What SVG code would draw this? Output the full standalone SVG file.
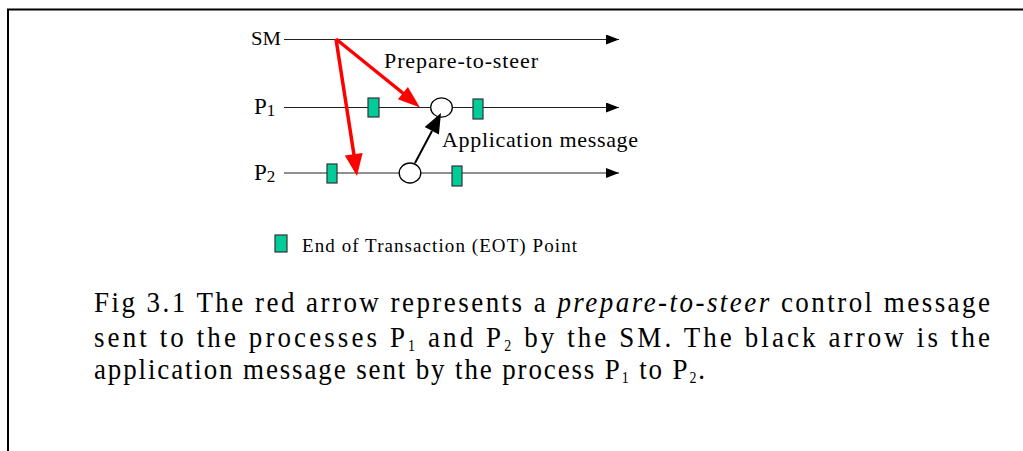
<svg xmlns="http://www.w3.org/2000/svg" width="1023" height="451" viewBox="0 0 1023 451">
<defs>
<style>
.t{font-family:"Liberation Serif","Times New Roman",serif;fill:#000}
.tl{stroke:#222;stroke-width:1.2;fill:none}
.eot{fill:#00CC99;stroke:#333;stroke-width:1.2}
.ev{fill:#fff;stroke:#000;stroke-width:1.3}
.red{stroke:#ff0000;stroke-width:3.5;fill:none}
.blk{stroke:#000;stroke-width:2;fill:none}
</style>
<marker id="ah" markerUnits="userSpaceOnUse" markerWidth="13" markerHeight="10" refX="13" refY="5" orient="auto">
<path d="M0,0 L13,5 L0,10 z" fill="#000"/>
</marker>
</defs>
<rect width="1023" height="451" fill="#fff"/>
<g id="frame" stroke="#000" stroke-width="2" fill="none">
<path d="M8,451 L8,9.5 L1023,9.5"/>
</g>
<g id="sm">
<text class="t" x="251" y="45" font-size="19" textLength="30" lengthAdjust="spacingAndGlyphs">SM</text>
<line class="tl" x1="284" y1="39.5" x2="619" y2="39.5" marker-end="url(#ah)"/>
</g>
<g id="p1">
<text class="t" x="254" y="114" font-size="23">P<tspan font-size="17" dy="2">1</tspan></text>
<line class="tl" x1="284" y1="107.5" x2="619" y2="107.5" marker-end="url(#ah)"/>
<rect class="eot" x="368" y="98" width="11" height="19"/>
<rect class="eot" x="473" y="99" width="10" height="20"/>
<ellipse class="ev" cx="441.5" cy="107.5" rx="10.8" ry="9.7"/>
</g>
<g id="p2">
<text class="t" x="254" y="180" font-size="23">P<tspan font-size="17" dy="2">2</tspan></text>
<line class="tl" x1="284" y1="173" x2="619" y2="173" marker-end="url(#ah)"/>
<rect class="eot" x="327" y="164" width="10" height="19"/>
<rect class="eot" x="452" y="166" width="10" height="20"/>
<ellipse class="ev" cx="410" cy="173" rx="10.8" ry="10"/>
</g>
<g id="connectors">
<line class="red" x1="336" y1="39" x2="404" y2="94"/>
<polygon fill="#ff0000" points="420,107.5 397.9,99.3 407.9,86.9"/>
<line class="red" x1="336" y1="39" x2="354" y2="155"/>
<polygon fill="#ff0000" points="357,176 344.8,155.6 362.6,152.9"/>
<line class="blk" x1="415" y1="163" x2="432" y2="131"/>
<polygon fill="#000" points="441,113 424.7,127 438.9,134.4"/>
<text class="t" x="384" y="68" font-size="22" textLength="154" lengthAdjust="spacing">Prepare-to-steer</text>
<text class="t" x="442" y="147" font-size="22" textLength="196" lengthAdjust="spacing">Application message</text>
</g>
<g id="legend">
<rect class="eot" x="275" y="235" width="12" height="17"/>
<text class="t" x="302" y="252" font-size="19" textLength="275" lengthAdjust="spacing">End of Transaction (EOT) Point</text>
</g>
<g id="caption" transform="translate(94,312) scale(1,1.12)">
<text class="t" x="0" y="0" font-size="27" textLength="896" lengthAdjust="spacing">Fig 3.1 The red arrow represents a <tspan font-style="italic">prepare-to-steer</tspan> control message</text>
<text class="t" x="0" y="31.25" font-size="27" textLength="896" lengthAdjust="spacing">sent to the processes P<tspan font-size="14" dy="4">1</tspan><tspan dy="-4"> and P</tspan><tspan font-size="14" dy="4">2</tspan><tspan dy="-4"> by the SM. The black arrow is the</tspan></text>
<text class="t" x="0" y="59.8" font-size="27" textLength="611" lengthAdjust="spacing">application message sent by the process P<tspan font-size="14" dy="4">1</tspan><tspan dy="-4"> to P</tspan><tspan font-size="14" dy="4">2</tspan><tspan dy="-4">.</tspan></text>
</g>
</svg>
